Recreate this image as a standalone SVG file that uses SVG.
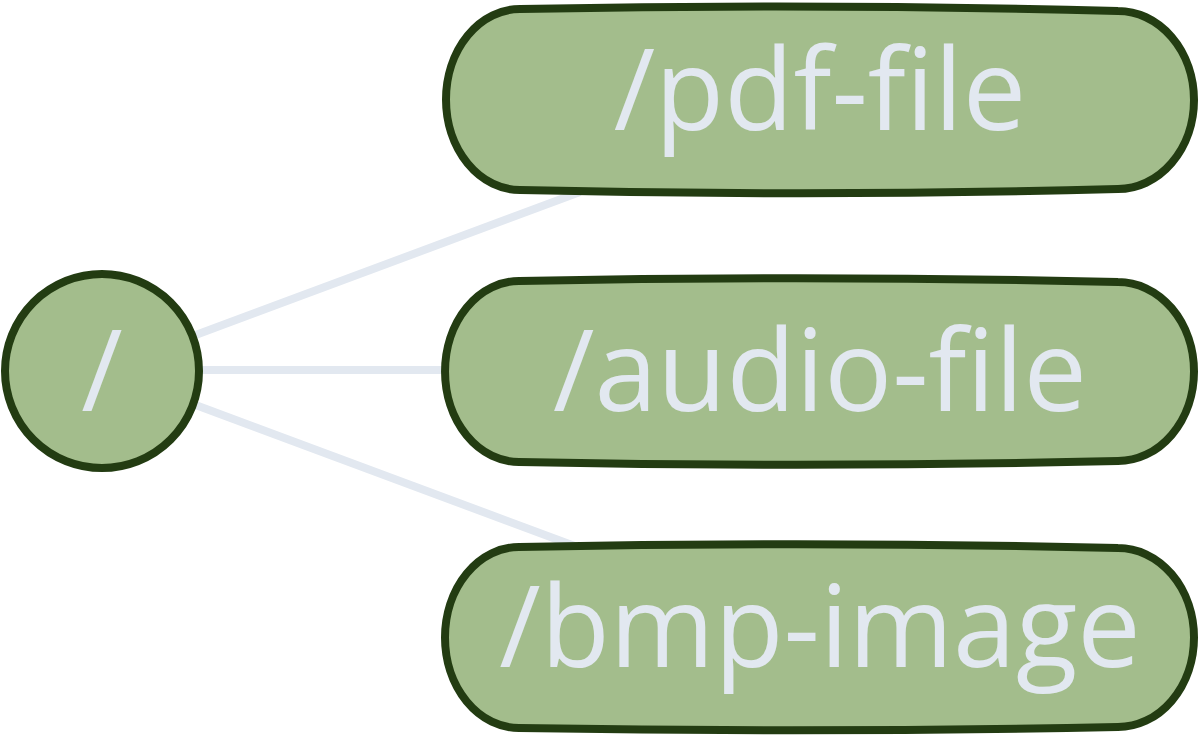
<svg xmlns="http://www.w3.org/2000/svg" width="1198" height="738" viewBox="0 0 1198 738">
  <style>
    .node { fill: #a3bd8c; stroke: #233c12; stroke-width: 8; stroke-linejoin: round; }
    .label { font-family: "Open Sans", "Noto Sans", sans-serif; font-size: 113px; fill: #e2e8f0; text-anchor: middle; }
    .edge { stroke: #e2e8f0; stroke-width: 8; fill: none; }
  </style>
  <rect width="1198" height="738" fill="#ffffff"/>
  <g id="connectors">
    <line class="edge" x1="150" y1="352" x2="580" y2="192"/>
    <line class="edge" x1="150" y1="370" x2="446" y2="370"/>
    <line class="edge" x1="150" y1="388" x2="580" y2="548"/>
  </g>
  <g id="node-root">
    <circle class="node" cx="102" cy="371" r="97"/>
    <text class="label" x="102" y="411">/</text>
  </g>
  <g id="node-pdf-file">
    <path class="node" d="M520,9 Q820,3 1118,11 A76,89 0 0 1 1118,189 Q820,197 520,190 A74,90.5 0 0 1 520,9 Z"/>
    <text class="label" x="820" y="130">/pdf-file</text>
  </g>
  <g id="node-audio-file">
    <path class="node" d="M519,281 Q820,275 1118,282 A76,89.5 0 0 1 1118,461 Q820,468 519,462 A74,90.5 0 0 1 519,281 Z"/>
    <text class="label" x="820" y="411">/audio-file</text>
  </g>
  <g id="node-bmp-image">
    <path class="node" d="M519,547 Q820,541 1118,548 A76,89.5 0 0 1 1118,727 Q820,733 519,728 A74,90.5 0 0 1 519,547 Z"/>
    <text class="label" x="820" y="667">/bmp-image</text>
  </g>
</svg>
